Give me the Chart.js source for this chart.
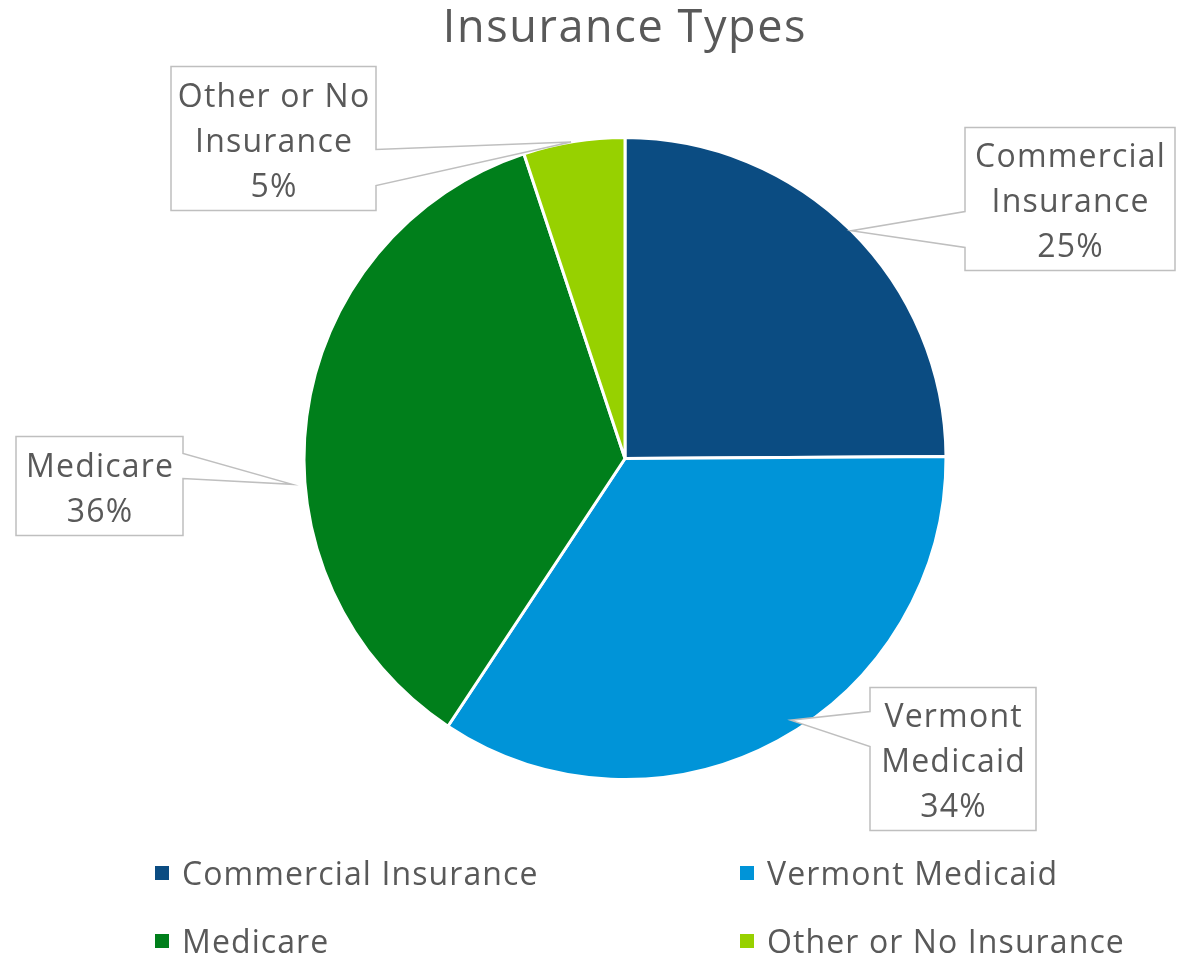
<!DOCTYPE html>
<html>
<head>
<meta charset="utf-8">
<script src="https://cdn.jsdelivr.net/npm/chart.js@4"></script>
<style>
  html, body { margin: 0; padding: 0; background: #ffffff; }
  #wrap { width: 1181px; height: 954px; position: relative; }
</style>
</head>
<body>
<div id="wrap"><canvas id="c"></canvas></div>
<script>
// ---- data ----
const categories = ['Commercial Insurance', 'Vermont Medicaid', 'Medicare', 'Other or No Insurance'];
const shares = [24.9, 34.4, 35.6, 5.1];
const labelLines = [['Commercial', 'Insurance'], ['Vermont', 'Medicaid'], ['Medicare'], ['Other or No', 'Insurance']];
const sliceColors = ['#0B4C82', '#0094D8', '#007F1B', '#97D100'];
const chartTitle = 'Insurance Types';

// ---- styling / layout of annotations ----
const FONT = "'Open Sans', 'DejaVu Sans', sans-serif";
const TEXT_COLOR = '#595959';
const callouts = [
  { dx: 445, dy: -259.5, w: 210, h: 143, side: 'left', b1: 12.5, b2: 48.5, adj: 0, rf: 1.0 },
  { dx: 328, dy: 300.5, w: 166, h: 143, side: 'left', b1: -47.5, b2: -12.5, adj: -3.9, rf: 0.965 },
  { dx: -525.5, dy: 27.5, w: 167, h: 99, side: 'right', b1: -32.5, b2: -7.5, adj: -12, rf: 1.04 },
  { dx: -351.5, dy: -320, w: 205, h: 144, side: 'right', b1: 11, b2: 47, adj: -0.5, rf: 1.0 }
];
const legendPos = [
  { x: 155, y: 873 }, { x: 740, y: 873 }, { x: 155, y: 941 }, { x: 740, y: 941 }
];

const spacingPlugin = {
  id: 'spacing',
  beforeDraw(chart) {
    chart.ctx.letterSpacing = '1.6px';
  }
};

const calloutPlugin = {
  id: 'callouts',
  afterDatasetsDraw(chart) {
    const ctx = chart.ctx;
    const meta = chart.getDatasetMeta(0);
    const total = shares.reduce((a, b) => a + b, 0);
    ctx.save();
    meta.data.forEach((arc, i) => {
      const c = callouts[i];
      const p = arc.getProps(['x', 'y', 'startAngle', 'endAngle', 'outerRadius'], true);
      const mid = (p.startAngle + p.endAngle) / 2 + c.adj * Math.PI / 180;
      const tx = p.x + Math.cos(mid) * p.outerRadius * c.rf;
      const ty = p.y + Math.sin(mid) * p.outerRadius * c.rf;
      const cx = p.x + c.dx, cy = p.y + c.dy;
      const l = cx - c.w / 2, r = cx + c.w / 2, t = cy - c.h / 2, b = cy + c.h / 2;
      ctx.beginPath();
      if (c.side === 'left') {
        ctx.moveTo(l, t); ctx.lineTo(r, t); ctx.lineTo(r, b); ctx.lineTo(l, b);
        ctx.lineTo(l, cy + c.b2); ctx.lineTo(tx, ty); ctx.lineTo(l, cy + c.b1);
      } else {
        ctx.moveTo(l, t); ctx.lineTo(r, t); ctx.lineTo(r, cy + c.b1); ctx.lineTo(tx, ty);
        ctx.lineTo(r, cy + c.b2); ctx.lineTo(r, b); ctx.lineTo(l, b);
      }
      ctx.closePath();
      ctx.fillStyle = '#ffffff';
      ctx.fill();
      ctx.lineWidth = 1.5;
      ctx.strokeStyle = '#BFBFBF';
      ctx.lineJoin = 'miter';
      ctx.stroke();
      const lines = labelLines[i].concat([Math.round(shares[i] / total * 100) + '%']);
      ctx.fillStyle = TEXT_COLOR;
      ctx.font = '32px ' + FONT;
      ctx.letterSpacing = '1.2px';
      ctx.textAlign = 'center';
      ctx.textBaseline = 'middle';
      const lh = 45;
      const y0 = cy - (lines.length - 1) * lh / 2 + 4;
      lines.forEach((s, k) => ctx.fillText(s, cx + 0.6, y0 + k * lh));
    });
    // legend
    ctx.font = '32px ' + FONT;
    ctx.letterSpacing = '1.1px';
    ctx.textAlign = 'left';
    ctx.textBaseline = 'middle';
    categories.forEach((name, i) => {
      const lp = legendPos[i];
      ctx.fillStyle = sliceColors[i];
      ctx.fillRect(lp.x, lp.y - 7, 14, 14);
      ctx.fillStyle = TEXT_COLOR;
      ctx.fillText(name, lp.x + 27, lp.y + 3);
    });
    ctx.restore();
  }
};

new Chart(document.getElementById('c'), {
  type: 'pie',
  data: {
    labels: categories,
    datasets: [{
      data: shares,
      backgroundColor: sliceColors,
      borderColor: '#ffffff',
      borderWidth: 3
    }]
  },
  options: {
    responsive: true,
    maintainAspectRatio: false,
    animation: false,
    layout: { padding: { top: 0, bottom: 173, left: 69, right: 0 } },
    plugins: {
      legend: { display: false },
      tooltip: { enabled: false },
      title: {
        display: true,
        text: chartTitle,
        color: TEXT_COLOR,
        font: { family: FONT, size: 45, weight: 'normal' },
        padding: { top: 2, bottom: 80 }
      }
    }
  },
  plugins: [spacingPlugin, calloutPlugin]
});
</script>
</body>
</html>
